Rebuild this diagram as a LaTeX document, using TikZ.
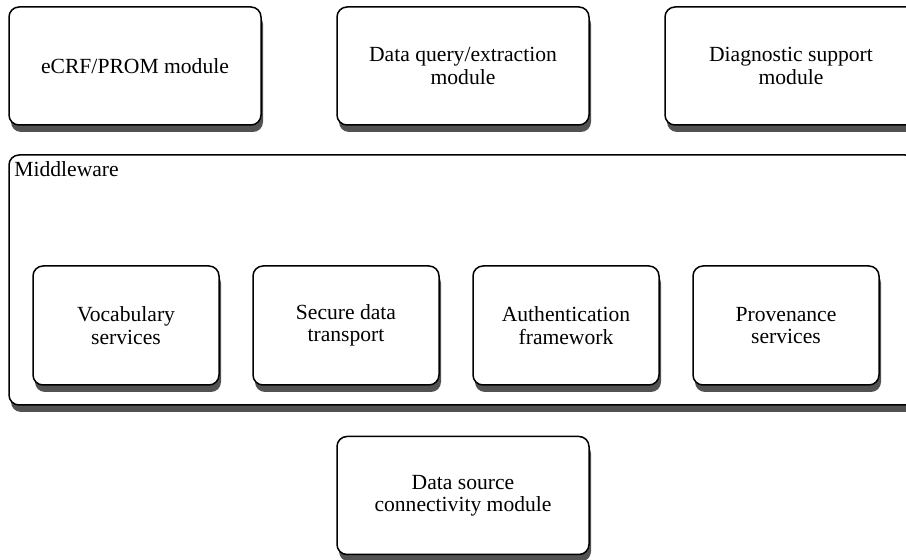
\documentclass[tikz,border=0pt]{standalone}
\usepackage{fontspec}
\setmainfont{Liberation Serif}
\usetikzlibrary{shadows,%
                positioning%
              }
\tikzset{%
  modbox/.style={rectangle, draw, line width=0.75pt, rounded corners=5pt,%
    fill=white, align=center, inner sep=2pt,%
    font=\fontsize{10.8}{11.2}\selectfont,%
    drop shadow={shadow xshift=1pt, shadow yshift=-3.5pt,%
      fill=black!68, opacity=1}},%
  bigmod/.style={modbox, minimum width=126pt, minimum height=59pt},%
  smallmod/.style={modbox, minimum width=93pt, minimum height=59.5pt}%
}
% \xy/\mname/\mtext
\def\topmodules{{(135,66)/ecrf/{eCRF/PROM module}},%
  {(463,66)/query/{Data query/extraction\\module}},%
  {(791,66)/diag/{Diagnostic support\\module}},%
  {(463,495.5)/source/{Data source\\connectivity module}}%
}
\def\services{{(126,325.5)/vocab/{Vocabulary\\services}},%
  {(346,325.5)/transport/{Secure data\\transport}},%
  {(566,325.5)/auth/{Authentication\\framework}},%
  {(786,325.5)/prov/{Provenance\\services}}%
}
\begin{document}
\begin{tikzpicture}[x=0.5pt,y=-0.5pt]%

  \clip (0,0) rectangle (906,560);%

  % top row and data source
  \foreach \xy/\mname/\mtext in \topmodules {%
    \node[bigmod] (\mname) at \xy {\mtext};%
  }%

  % middleware frame
  \node[modbox, minimum width=453pt, minimum height=125pt] (mw) at (462,280) {};%
  \node[anchor=base west, inner sep=0pt, font=\fontsize{10.8}{11.2}\selectfont]%
    (mwlabel) at (14,177) {Middleware};%

  \foreach \xy/\mname/\mtext in \services {%
    \node[smallmod] (\mname) at \xy {\mtext};%
  }%

\end{tikzpicture}
\end{document}
